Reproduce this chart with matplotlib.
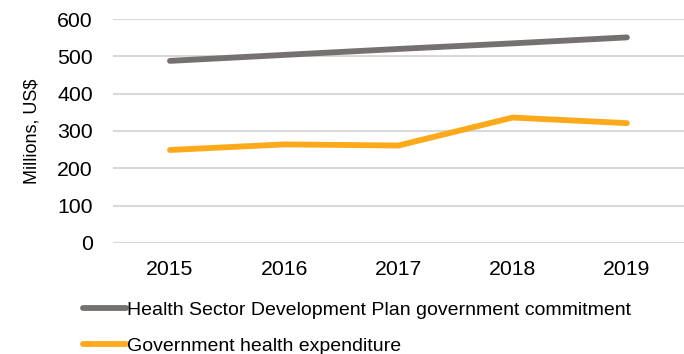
import matplotlib
matplotlib.use('Agg')
import matplotlib.pyplot as plt

years = ['2015', '2016', '2017', '2018', '2019']
commitment = [488, 504, 520, 535, 551]
expenditure = [249, 264, 261, 336, 321]

plt.rcParams['font.family'] = ['Liberation Sans', 'DejaVu Sans']

fig = plt.figure(figsize=(6.84, 3.54), dpi=100)
ax = fig.add_axes([0.165, 0.314, 0.835, 0.632])

x = range(len(years))
ax.plot(x, commitment, color='#767171', lw=4.2, solid_capstyle='round',
        label='Health Sector Development Plan government commitment')
ax.plot(x, expenditure, color='#FCAA1C', lw=4.2, solid_capstyle='round',
        label='Government health expenditure')

ax.set_xlim(-0.5, len(years) - 0.5)
ax.set_ylim(0, 600)
ax.set_yticks(range(0, 601, 100))
ax.set_xticks(list(x))
ax.set_xticklabels(years)
ax.yaxis.grid(True, color='#D9D9D9', lw=1.5)
ax.set_axisbelow(True)
for s in ax.spines.values():
    s.set_visible(False)
ax.tick_params(axis='both', length=0, labelsize=15.3, colors='#000000')
ax.tick_params(axis='y', pad=14.5)
ax.tick_params(axis='x', pad=12)
ax.set_ylabel('Millions, US$', fontsize=13)
ax.yaxis.set_label_coords(-0.165 + 22 / 571, 0.5)

fig.legend(loc='upper left', bbox_to_anchor=(0.121, 0.149), frameon=False,
           fontsize=14, handlelength=2.2, handletextpad=0.1,
           labelspacing=0.95, borderpad=0, borderaxespad=0)

fig.savefig('out.png', dpi=100)
